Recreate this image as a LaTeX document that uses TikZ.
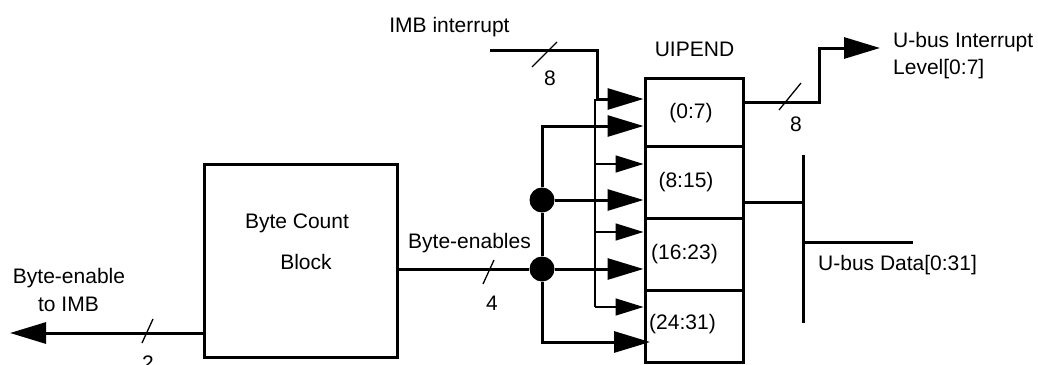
\documentclass[tikz,border=0pt]{standalone}
\usepackage{fontspec}
\setmainfont{Liberation Sans}
\usetikzlibrary{arrows.meta}
\begin{document}
\begin{tikzpicture}[x=1pt,y=-1pt,
  thickline/.style={line width=3pt, line join=miter},
  thinline/.style={line width=1.6pt},
  slashmark/.style={line width=1.3pt},
  bigarrow/.style={-{Triangle[length=36pt,width=21pt]}},
  smallarrow/.style={-{Triangle[length=28pt,width=17pt]}},
  blockbox/.style={draw, line width=3pt, inner sep=0pt},
  txt/.style={font=\fontsize{21}{25}\selectfont, inner sep=0pt, anchor=base},
  txtl/.style={txt, anchor=base west},
  dotnode/.style={circle, fill=black, minimum size=25pt, inner sep=0pt}
]
\useasboundingbox (0,0) rectangle (1038,364);

% Byte count block
\node[blockbox, minimum width=193pt, minimum height=193pt] (bcb) at (300.5,260.5) {};
\node[txt] (bcbt1) at (297,228.5) {Byte Count};
\node[txt] (bcbt2) at (306,269.3) {Block};

% UIPEND cells
\node[blockbox, minimum width=98pt, minimum height=68pt] (c1) at (694,112) {};
\node[blockbox, minimum width=98pt, minimum height=72pt] (c2) at (694,182) {};
\node[blockbox, minimum width=98pt, minimum height=72pt] (c3) at (694,254) {};
\node[blockbox, minimum width=98pt, minimum height=72pt] (c4) at (694,326) {};
\node[txt] (l1) at (691,118) {(0:7)};
\node[txt] (l2) at (686,187.5) {(8:15)};
\node[txt] (l3) at (684.5,259) {(16:23)};
\node[txt] (l4) at (682.5,329) {(24:31)};
\node[txt] (uipend) at (694.5,56) {UIPEND};

% Byte-enable to IMB
\coordinate (beS) at (204,333);
\coordinate (beTip) at (10,333);
\draw[thickline, bigarrow] (beS) -- (beTip);
\draw[slashmark] (142,343) -- (153,319);
\node[txt] (n2) at (148,370) {2};
\node[txt] (beL1) at (69,283.3) {Byte-enable};
\node[txt] (beL2) at (68.5,311.7) {to IMB};

% Byte-enables bus
\node[dotnode] (dot1) at (542,200) {};
\node[dotnode] (dot2) at (542,269) {};
\coordinate (busT) at (542,126);
\coordinate (busB) at (542,342);
\coordinate (tipB4) at (650,342);
\draw[thickline] (bcb.east |- dot2) -- (dot2);
\draw[thickline] (dot1) -- (dot2);
\draw[thickline, bigarrow] (dot1) -- (busT) -- (busT -| c1.west);
\draw[thickline, bigarrow] (dot2) -- (busB) -- (tipB4);
\draw[thickline, bigarrow] (dot1) -- (dot1 -| c2.west);
\draw[thickline, bigarrow] (dot2) -- (dot2 -| c3.west);
\draw[slashmark] (483,284) -- (494,260);
\node[txt] (n4) at (492,310) {4};
\node[txt] (bel) at (469.5,248.3) {Byte-enables};

% IMB interrupt
\coordinate (imbL) at (490,50);
\coordinate (imbK) at (597,99);
\draw[thickline, bigarrow] (imbL) -| (imbK) -- (imbK -| c1.west);
\draw[slashmark] (532,67) -- (557,42);
\node[txt] (n8a) at (550,85) {8};
\node[txt] (imbt) at (449.5,32) {IMB interrupt};

% thin distribution
\coordinate (thT) at (595,99);
\coordinate (th1) at (595,164);
\coordinate (th2) at (595,232);
\coordinate (th3) at (595,307);
\draw[thinline] (thT) -- (th3);
\draw[thinline, smallarrow] (th1) -- (th1 -| c2.west);
\draw[thinline, smallarrow] (th2) -- (th2 -| c3.west);
\draw[thinline, smallarrow] (th3) -- (th3 -| c4.west);

% U-bus interrupt output
\coordinate (oS) at (743,102);
\coordinate (oB) at (819,102);
\coordinate (oTip) at (880,48);
\draw[thickline, bigarrow] (oS) -- (oB) |- (oTip);
\draw[slashmark] (779,110) -- (801,83);
\node[txt] (n8b) at (796,131) {8};
\node[txtl] (ui1) at (893,47.7) {U-bus Interrupt};
\node[txtl] (ui2) at (893,74) {Level[0:7]};

% U-bus data
\coordinate (dT) at (803,155);
\coordinate (dB) at (803,323);
\coordinate (dE) at (913,242);
\draw[thickline] (c2.east |- 0,202) -- (dT |- 0,202);
\draw[thickline] (dT) -- (dB);
\draw[thickline] (dT |- dE) -- (dE);
\node[txtl] (udl) at (818,270) {U-bus Data[0:31]};
\end{tikzpicture}
\end{document}
